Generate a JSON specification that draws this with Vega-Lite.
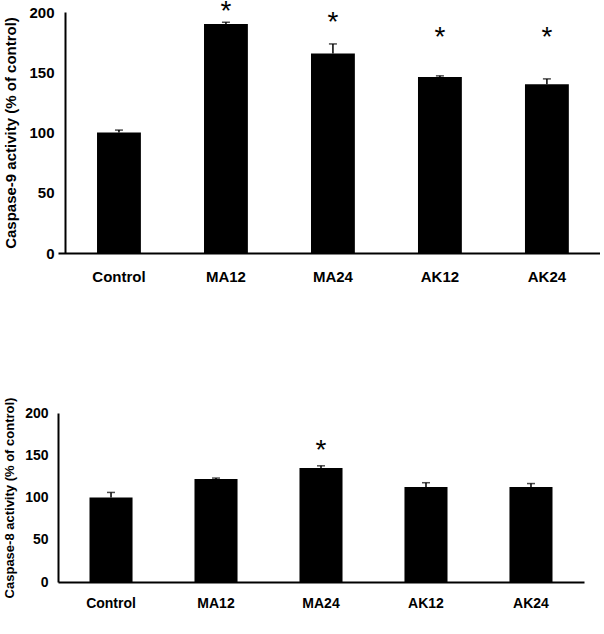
{
  "$schema": "https://vega.github.io/schema/vega-lite/v6.json",
  "padding": {"left": 3, "top": -3, "right": 0, "bottom": 0},
  "background": "white",
  "config": {
    "font": "Liberation Sans",
    "view": {"stroke": null},
    "axis": {"labelColor": "black", "titleColor": "black", "domainColor": "black", "grid": false, "ticks": false, "tickSize": 0, "labelFontWeight": "bold", "titleFontWeight": "bold"}
  },
  "datasets": {
    "casp9": [
      {"group": "Control", "activity": 100, "upper": 102, "star_at": null},
      {"group": "MA12", "activity": 190, "upper": 191.5, "star_at": 211.7},
      {"group": "MA24", "activity": 165.5, "upper": 173.5, "star_at": 202.2},
      {"group": "AK12", "activity": 146, "upper": 147, "star_at": 189.7},
      {"group": "AK24", "activity": 140, "upper": 144.5, "star_at": 189.7}
    ],
    "casp8": [
      {"group": "Control", "activity": 100, "upper": 106, "star_at": null},
      {"group": "MA12", "activity": 122, "upper": 123, "star_at": null},
      {"group": "MA24", "activity": 135, "upper": 137.5, "star_at": 171.4},
      {"group": "AK12", "activity": 112.5, "upper": 117.5, "star_at": null},
      {"group": "AK24", "activity": 112.5, "upper": 116.5, "star_at": null}
    ]
  },
  "bounds": "full",
  "spacing": 113,
  "vconcat": [
    {
      "width": 542,
      "height": 241,
      "data": {"name": "casp9"},
      "encoding": {
        "x": {
          "field": "group", "type": "nominal", "sort": null,
          "scale": {"paddingInner": 0.59, "paddingOuter": 0.328, "align": 0.556},
          "axis": {"title": null, "labelAngle": 0, "labelFontSize": 15, "labelPadding": 16, "labelBaseline": "top", "domainWidth": 2}
        }
      },
      "layer": [
        {
          "mark": {"type": "bar", "color": "black"},
          "encoding": {
            "y": {
              "field": "activity", "type": "quantitative",
              "scale": {"domain": [0, 200], "nice": false},
              "axis": {"values": [0, 50, 100, 150, 200], "offset": -7, "title": "Caspase-9 activity (% of control)", "labelFontSize": 15, "labelPadding": 11, "titleFontSize": 15, "titlePadding": 10, "domainWidth": 2}
            }
          }
        },
        {
          "mark": {"type": "rule", "color": "black", "strokeWidth": 1.5},
          "encoding": {"y": {"field": "activity", "type": "quantitative"}, "y2": {"field": "upper"}}
        },
        {
          "mark": {"type": "tick", "color": "black", "thickness": 1.5, "size": 8},
          "encoding": {"y": {"field": "upper", "type": "quantitative"}}
        },
        {
          "transform": [{"filter": "datum.star_at != null"}],
          "mark": {"type": "text", "text": "*", "fontSize": 28, "baseline": "top", "color": "black"},
          "encoding": {"y": {"field": "star_at", "type": "quantitative"}}
        }
      ]
    },
    {
      "width": 526,
      "height": 169,
      "data": {"name": "casp8"},
      "encoding": {
        "x": {
          "field": "group", "type": "nominal", "sort": null,
          "scale": {"paddingInner": 0.59, "paddingOuter": 0.3},
          "axis": {"title": null, "labelAngle": 0, "labelFontSize": 14, "labelPadding": 14, "labelBaseline": "top", "domainWidth": 2}
        }
      },
      "layer": [
        {
          "mark": {"type": "bar", "color": "black"},
          "encoding": {
            "y": {
              "field": "activity", "type": "quantitative",
              "scale": {"domain": [0, 200], "nice": false},
              "axis": {"values": [0, 50, 100, 150, 200], "title": "Caspase-8 activity (% of control)", "labelFontSize": 14, "labelPadding": 10, "titleFontSize": 13, "titlePadding": 8, "domainWidth": 2}
            }
          }
        },
        {
          "mark": {"type": "rule", "color": "black", "strokeWidth": 1.5},
          "encoding": {"y": {"field": "activity", "type": "quantitative"}, "y2": {"field": "upper"}}
        },
        {
          "mark": {"type": "tick", "color": "black", "thickness": 1.5, "size": 8},
          "encoding": {"y": {"field": "upper", "type": "quantitative"}}
        },
        {
          "transform": [{"filter": "datum.star_at != null"}],
          "mark": {"type": "text", "text": "*", "fontSize": 28, "baseline": "top", "color": "black"},
          "encoding": {"y": {"field": "star_at", "type": "quantitative"}}
        }
      ]
    }
  ]
}
